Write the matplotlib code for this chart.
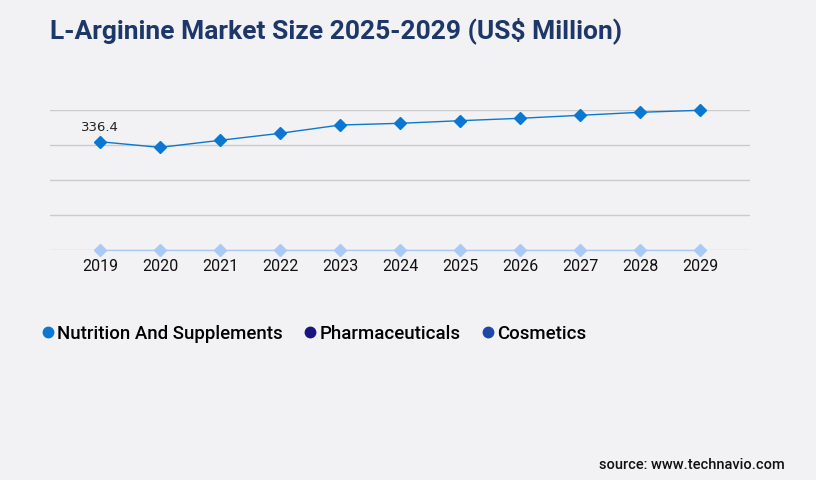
import matplotlib.pyplot as plt
from matplotlib.lines import Line2D

years = [2019, 2020, 2021, 2022, 2023, 2024, 2025, 2026, 2027, 2028, 2029]
nutrition = [336.4, 318.8, 340.7, 362.4, 388.1, 393.4, 401.5, 408.9, 418.2, 427.5, 433.7]
other = [0] * len(years)
legend_names = ['Nutrition And Supplements', 'Pharmaceuticals', 'Cosmetics']
legend_colors = ['#0a78d2', '#1a1480', '#1c48a8']

bg = '#f2f2f4'
W, H = 816, 480

fig = plt.figure(figsize=(W / 100, H / 100), dpi=100)
fig.patch.set_facecolor(bg)

ax = fig.add_axes([50 / W, (H - 250.3) / H, 700 / W, 140 / H])
ax.set_facecolor(bg)
ax.set_xlim(2018 + 1 / 6, 2029 + 5 / 6)
ax.set_ylim(0, 433.7)
for k in range(5):
    ax.axhline(433.7 * k / 4, color='#cbcbcb', lw=1, zorder=0)

ax.plot(years, other, color='#a9c9f7', lw=1, marker='D', ms=6, clip_on=False, zorder=2)
ax.plot(years, nutrition, color='#0a78d2', lw=1, marker='D', ms=6, clip_on=False, zorder=3)
ax.annotate('336.4', (years[0], nutrition[0]), xytext=(0, 5.5), textcoords='offset points',
            ha='center', va='bottom', fontsize=9.5, color='#222222', family='DejaVu Sans')

for s in ax.spines.values():
    s.set_visible(False)
ax.set_yticks([])
ax.set_xticks(years)
ax.set_xticklabels([str(y) for y in years], family='Roboto', fontsize=11.5, color='#111111')
ax.tick_params(axis='x', length=0, pad=6)

fig.text(50 / W, 1 - 31 / H, 'L-Arginine Market Size 2025-2029 (US$ Million)', family='Roboto',
         fontweight='bold', fontsize=19, color='#1d3768', va='center', ha='left')

handles = [Line2D([], [], ls='', marker='o', ms=7.5, color=c) for c in legend_colors]
fig.legend(handles, legend_names, loc='center left', bbox_to_anchor=(31 / W, 1 - 334 / H),
           ncol=3, frameon=False, prop={'family': 'Roboto', 'size': 13.4, 'weight': 'medium'},
           handletextpad=0.0, columnspacing=0.98, handlelength=1.0, borderaxespad=0)

fig.text(785 / W, 1 - 465 / H, 'source: www.technavio.com', family='Roboto', fontweight='medium',
         fontsize=10.5, color='#111111', ha='right', va='center')

fig.savefig('out.png', dpi=100, facecolor=bg)
